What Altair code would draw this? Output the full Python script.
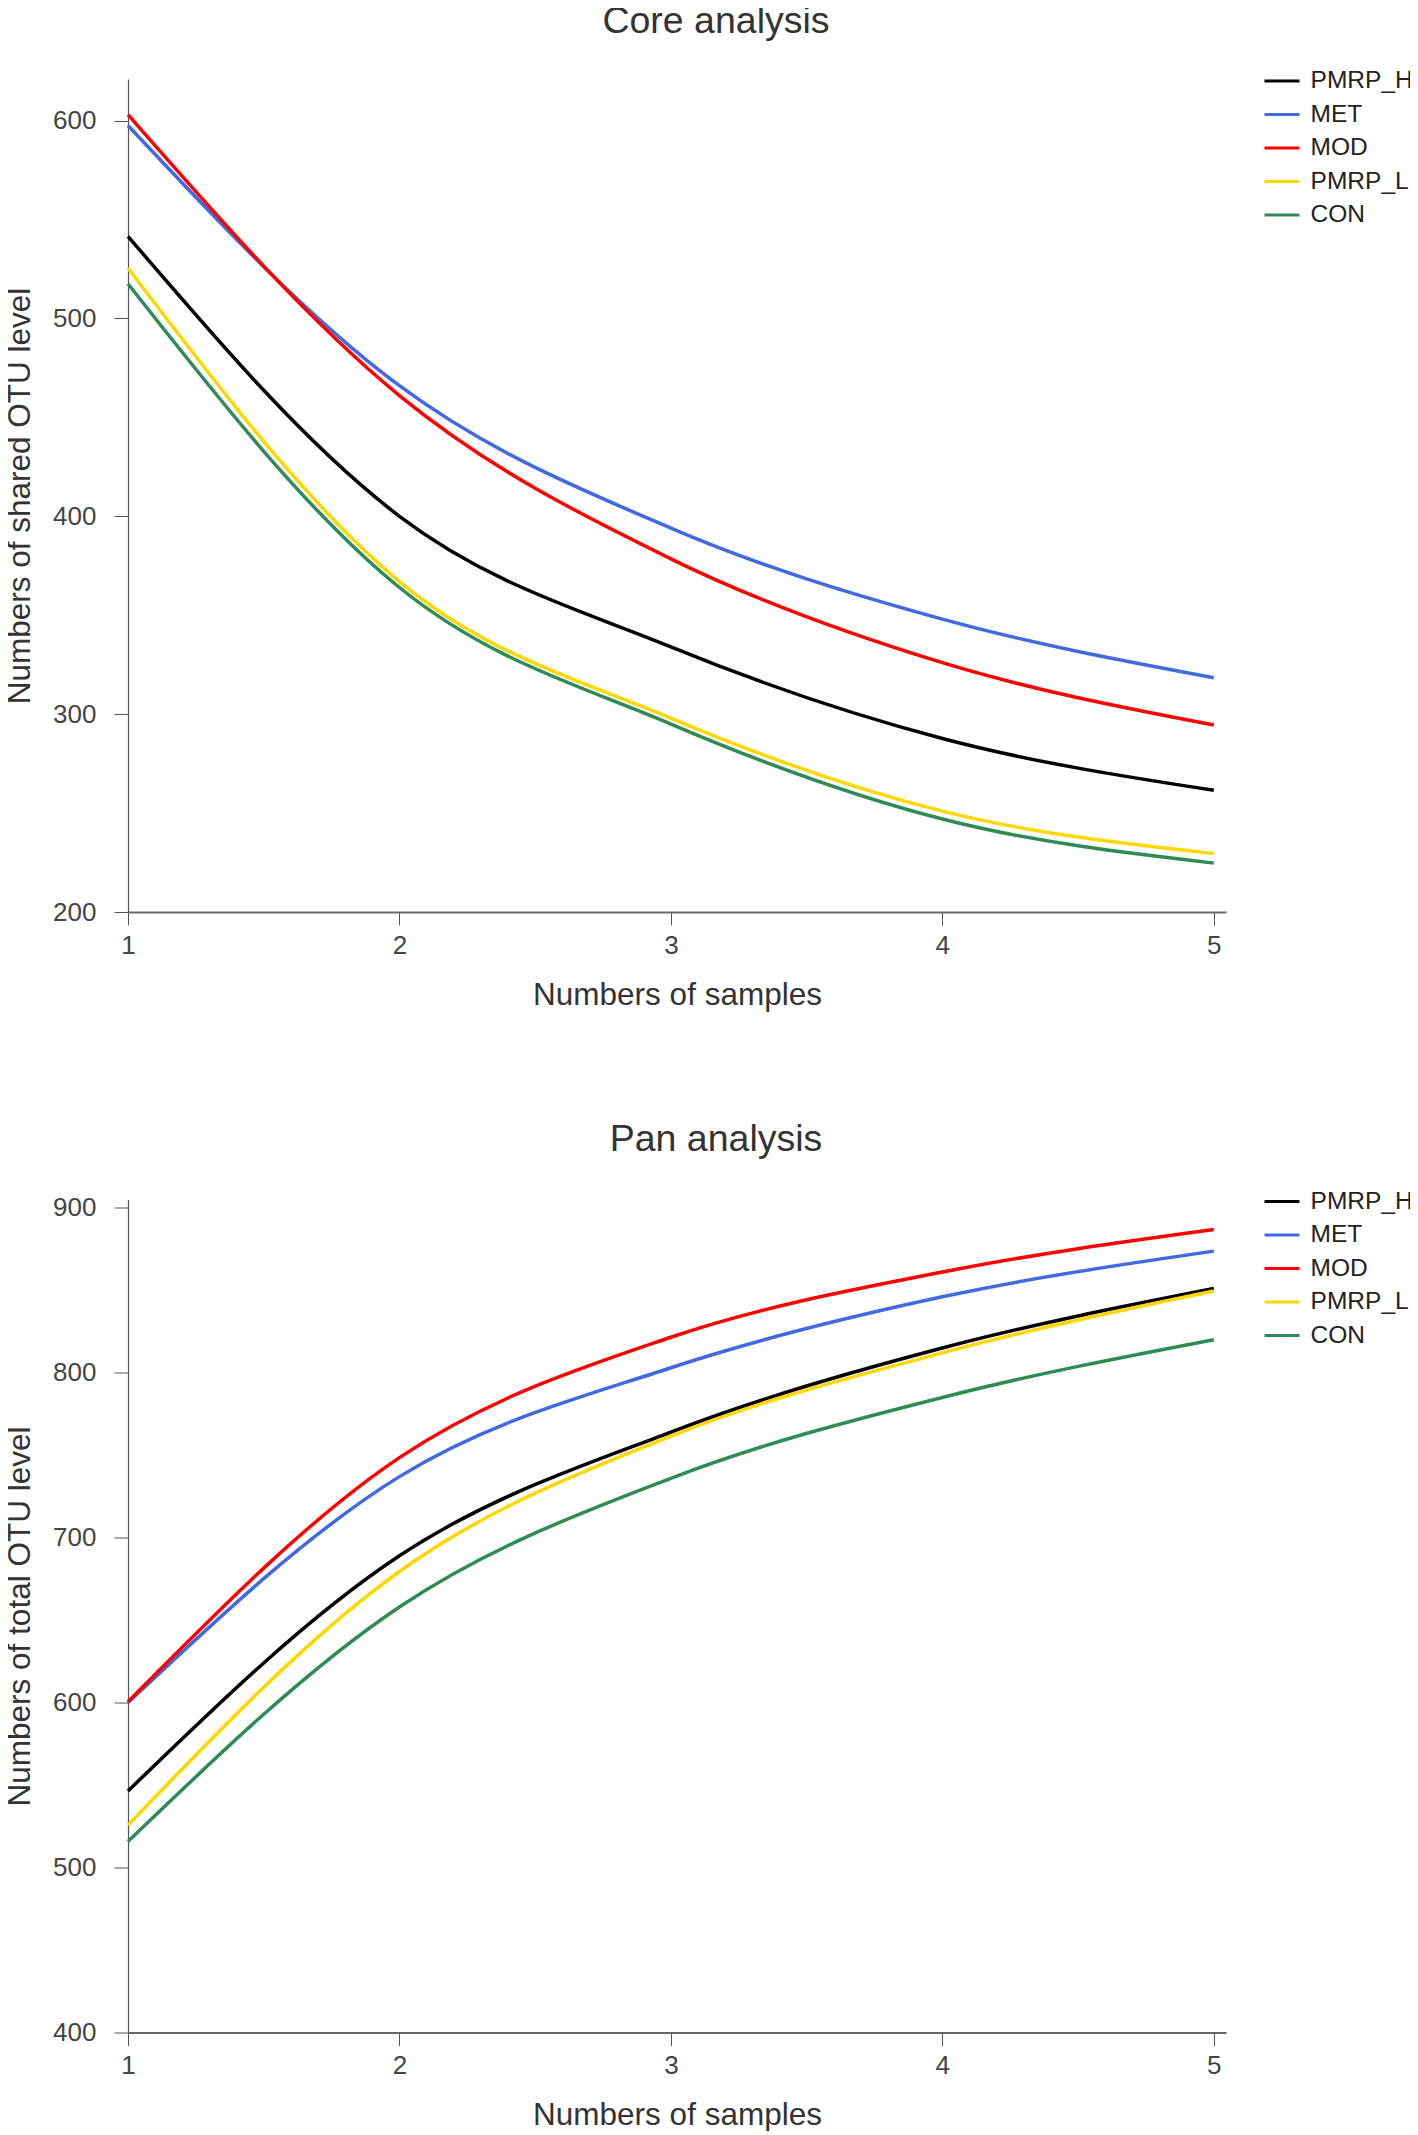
import altair as alt
import pandas as pd

FONT = "Liberation Sans"

samples = [1, 2, 3, 4, 5]
groups = ["PMRP_H", "MET", "MOD", "PMRP_L", "CON"]
colors = ["#000000", "#4169E1", "#FF0000", "#FFD700", "#2E8B57"]

# Core analysis (shared OTUs)
core_pmrp_h = [541.5, 400, 334, 287.7, 261.5]
core_met = [597.5, 466, 394, 348, 318.4]
core_mod = [603, 461, 378.5, 326, 294.5]
core_pmrp_l = [525.5, 367, 298, 251, 229.5]
core_con = [517.5, 364, 295, 247, 224.7]

# Pan analysis (total OTUs)
pan_pmrp_h = [546.4, 689, 764, 815, 851]
pan_met = [600, 737, 803, 846, 873.7]
pan_mod = [600.5, 748.5, 821.5, 861, 886.8]
pan_pmrp_l = [525.7, 679.5, 761.5, 812, 849.5]
pan_con = [515.8, 658, 736, 785, 820]

x_ticks = [1, 2, 3, 4, 5]
core_ticks = [200, 300, 400, 500, 600]
pan_ticks = [400, 500, 600, 700, 800, 900]


def long_df(series):
    rows = []
    for g, vals in zip(groups, series):
        for s, v in zip(samples, vals):
            rows.append({"samples": s, "value": v, "group": g})
    return pd.DataFrame(rows)


core_df = long_df([core_pmrp_h, core_met, core_mod, core_pmrp_l, core_con])
pan_df = long_df([pan_pmrp_h, pan_met, pan_mod, pan_pmrp_l, pan_con])


def panel(df, title, ytitle, ydomain, yticks, title_offset):
    return alt.Chart(df).mark_line(interpolate="monotone", strokeWidth=3.5).encode(
        x=alt.X(
            "samples:Q",
            scale=alt.Scale(domain=[1, 5.045], nice=False, zero=False),
            axis=alt.Axis(values=x_ticks, format="d", title="Numbers of samples",
                          domainWidth=2, domainColor="#666", labelPadding=7,
                          titlePadding=21, labelFlush=False, tickSize=13),
        ),
        y=alt.Y(
            "value:Q",
            scale=alt.Scale(domain=ydomain, nice=False, zero=False),
            axis=alt.Axis(values=yticks, format="d", title=ytitle, tickSize=14,
                          labelPadding=18, titlePadding=16, domainWidth=1.2,
                          domainColor="#555"),
        ),
        color=alt.Color(
            "group:N",
            scale=alt.Scale(domain=groups, range=colors),
            legend=alt.Legend(title=None, orient="none", legendX=1135, legendY=-17,
                              symbolType="stroke", symbolStrokeWidth=3, symbolSize=1225,
                              rowPadding=2.5, labelOffset=9.6, labelFontSize=24.5,
                              labelFont=FONT, labelColor="#222", padding=0),
        ),
    ).properties(
        width=1098,
        height=833,
        title=alt.Title(title, fontSize=37.5, font=FONT, fontWeight="normal", color="#333",
                        anchor="middle", frame="group", baseline="alphabetic",
                        offset=title_offset, dx=39),
    )


core = panel(core_df, "Core analysis", "Numbers of shared OTU level", [200, 621],
             core_ticks, -8.5)
pan = panel(pan_df, "Pan analysis", "Numbers of total OTU level", [400, 905],
            pan_ticks, -5.5)

chart = alt.vconcat(core, pan, spacing=109.5).resolve_legend(
    color="independent"
).properties(
    padding={"left": -4, "top": -5, "right": -3, "bottom": 0}
).configure(font=FONT).configure_axis(
    labelFont=FONT, labelFontSize=26, labelColor="#444",
    titleFont=FONT, titleFontSize=31.5, titleFontWeight="normal", titleColor="#333",
    grid=False, tickColor="#555",
).configure_view(strokeWidth=0)

chart.save("out.html", embed_options={"renderer": "svg", "actions": False})
